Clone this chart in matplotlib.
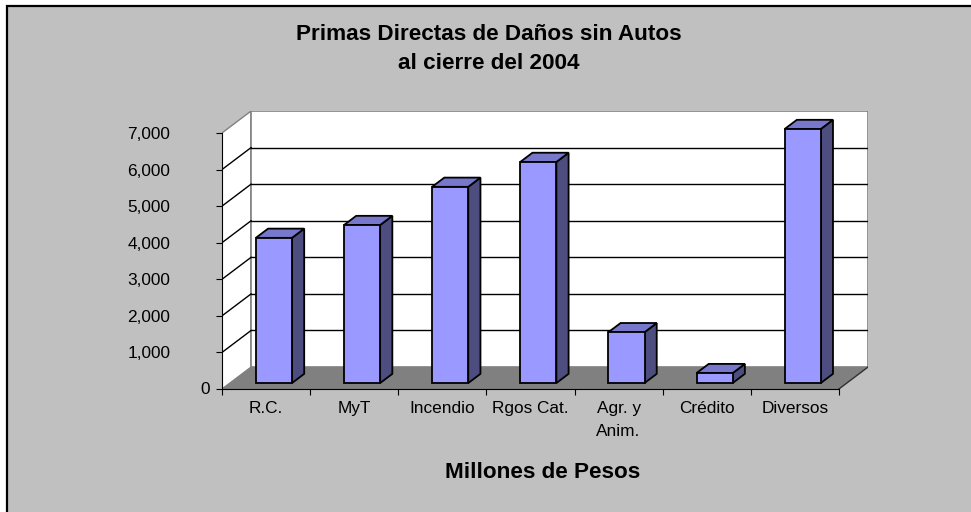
import numpy as np
import matplotlib.pyplot as plt
from matplotlib.patches import Polygon, Rectangle

plt.rcParams['font.family'] = ['Liberation Sans', 'DejaVu Sans']

# DATA
categorias = ['R.C.', 'MyT', 'Incendio', 'Rgos Cat.', 'Agr. y\nAnim.', 'Crédito', 'Diversos']
primas = [3970, 4320, 5365, 6045, 1390, 272, 6945]
yticks = [0, 1000, 2000, 3000, 4000, 5000, 6000, 7000]

# 3D look (Excel style)
DX, DY = 0.33, 600          # depth vector in data units
BAR_W = 0.41                # bar width (category units)
D0, BD = 0.27, 0.42         # bar start depth, bar depth (fraction of floor)
front_c, top_c, side_c = '#9999FF', '#7777CC', '#4D4D80'

W, H = 971, 512
fig = plt.figure(figsize=(W / 100, H / 100), dpi=100, facecolor='white')

# chart area frame
fig.patches.append(Rectangle((7 / W, -0.1), 1.2, 1.1 - 6 / H, transform=fig.transFigure,
                             facecolor='#C0C0C0', edgecolor='black', lw=1.6, zorder=-10))

ax = fig.add_axes([222 / W, 1 - 389 / H, (868 - 222) / W, (389 - 111) / H])
ax.set_facecolor('none')
n = len(categorias)
ymax = yticks[-1]
ax.set_xlim(0, n + DX)
ax.set_ylim(0, ymax + DY)

# walls and floor
ax.add_patch(Polygon([(0, 0), (0, ymax), (DX, ymax + DY), (DX, DY)],
                     facecolor='white', edgecolor='#808080', lw=1, zorder=1))
ax.add_patch(Rectangle((DX, DY), n, ymax, facecolor='white', edgecolor='#808080', lw=1.2, zorder=1))
ax.add_patch(Polygon([(0, 0), (n, 0), (n + DX, DY), (DX, DY)],
                     facecolor='#808080', edgecolor='none', zorder=2))
ax.plot([n, n + DX], [0, DY], color='#303030', lw=1, zorder=2)

# gridlines on back and side walls
for v in yticks[1:-1]:
    ax.plot([DX, n + DX], [v + DY, v + DY], color='black', lw=1, zorder=2)
    ax.plot([0, DX], [v, v + DY], color='black', lw=1, zorder=2)

# bars
for i, v in enumerate(primas):
    x0 = i + (1 - BAR_W) / 2 + D0 * DX
    y0 = D0 * DY
    ddx, ddy = BD * DX, BD * DY
    front = [(x0, y0), (x0 + BAR_W, y0), (x0 + BAR_W, y0 + v), (x0, y0 + v)]
    top = [(x0, y0 + v), (x0 + BAR_W, y0 + v), (x0 + BAR_W + ddx, y0 + v + ddy), (x0 + ddx, y0 + v + ddy)]
    side = [(x0 + BAR_W, y0), (x0 + BAR_W + ddx, y0 + ddy), (x0 + BAR_W + ddx, y0 + v + ddy), (x0 + BAR_W, y0 + v)]
    for pts, c in [(side, side_c), (top, top_c), (front, front_c)]:
        ax.add_patch(Polygon(pts, facecolor=c, edgecolor='black', lw=1.3, joinstyle='miter', zorder=5))

# axes
for s in ['top', 'right']:
    ax.spines[s].set_visible(False)
ax.spines['left'].set_bounds(0, ymax)
ax.spines['bottom'].set_bounds(0, n)
ax.spines['left'].set_zorder(4)
ax.spines['bottom'].set_zorder(4)

ax.set_yticks(yticks, [''] + [f'{t:,}' for t in yticks[1:]])
ax.tick_params(axis='y', direction='out', length=4.3, width=0.8, pad=33, labelsize=12.4)
ax.annotate('0', xy=(0, 0), xytext=(-8.6, 0), textcoords='offset points',
            ha='right', va='center', fontsize=12.4, annotation_clip=False)

ax.set_xticks(np.arange(n + 1), [''] * (n + 1))
ax.set_xticks(np.arange(n) + 0.5, categorias, minor=True)
ax.tick_params(axis='x', which='major', direction='out', length=4.3, width=0.8)
ax.tick_params(axis='x', which='minor', length=0, pad=8.4, labelsize=12.4)
for lab in ax.get_xticklabels(minor=True):
    lab.set_linespacing(1.7)

fig.text(489 / W, 1 - 49 / H, 'Primas Directas de Daños sin Autos\nal cierre del 2004',
         ha='center', va='center', fontsize=16.2, fontweight='bold', linespacing=1.5)
fig.text(543 / W, 1 - 473 / H, 'Millones de Pesos', ha='center', va='center',
         fontsize=16.2, fontweight='bold')

fig.savefig('out.png', dpi=100)
